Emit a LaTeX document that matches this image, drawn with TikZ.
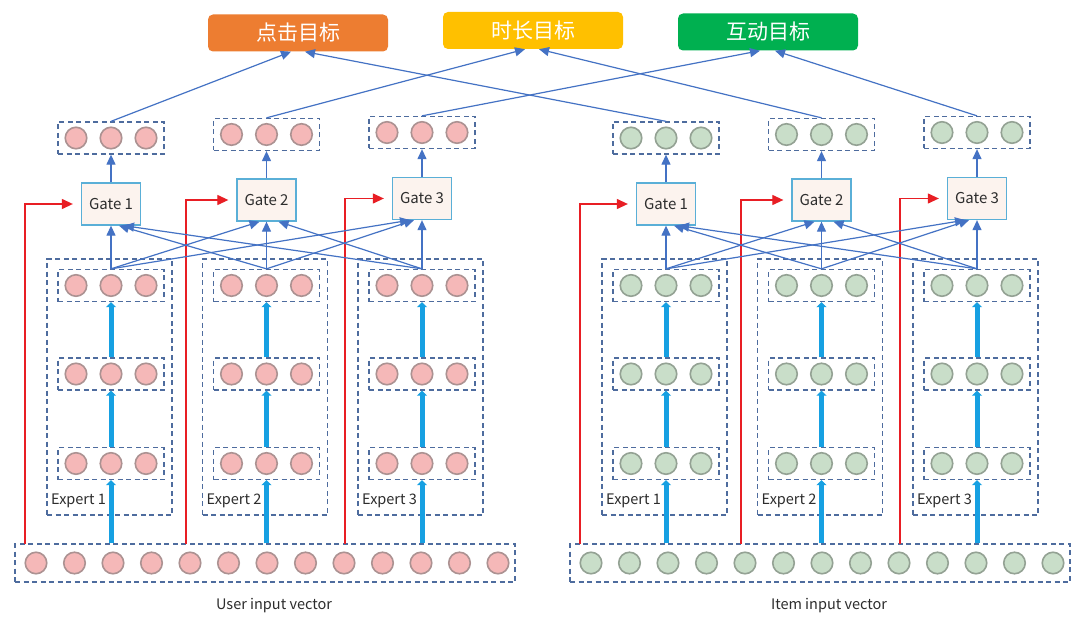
\documentclass[tikz,border=0pt]{standalone}
\usepackage{fontspec}
\setmainfont{Noto Sans CJK SC}
\usetikzlibrary{arrows.meta,calc}
\definecolor{dashc}{RGB}{78,108,158}
\definecolor{pinkf}{RGB}{245,184,184}
\definecolor{pinkb}{RGB}{172,146,146}
\definecolor{grnf}{RGB}{201,222,201}
\definecolor{grnb}{RGB}{148,162,148}
\definecolor{connc}{RGB}{68,114,196}
\definecolor{cyanc}{RGB}{22,160,226}
\definecolor{redc}{RGB}{232,30,36}
\definecolor{gatec}{RGB}{90,175,215}
\definecolor{gatef}{RGB}{252,243,238}
\definecolor{textc}{RGB}{45,45,45}
\definecolor{orangec}{RGB}{237,125,49}
\definecolor{yellowc}{RGB}{255,192,0}
\definecolor{greenc}{RGB}{0,176,80}
\begin{document}
\begin{tikzpicture}[x=1pt,y=-1pt,
  dbox/.style={draw=dashc, dash pattern=on 5pt off 3.5pt, line width=1.3pt, inner sep=0pt, minimum width=106pt, minimum height=32pt},
  neu/.style={circle, line width=1.6pt, minimum size=21.5pt, inner sep=0pt},
  gatebox/.style={draw=gatec, fill=gatef, line width=1.3pt, minimum width=59pt, minimum height=42pt, inner sep=0pt, text=textc, font=\fontsize{15}{17}\selectfont},
  target/.style={rounded corners=5pt, minimum width=180pt, minimum height=37pt, inner sep=0pt, text=white, font=\fontsize{21}{23}\selectfont},
  lbl/.style={text=textc, inner sep=0pt, font=\fontsize{14.5}{16}\selectfont},
  conn/.style={draw=connc, line width=1.2pt, -{Triangle[length=10pt,width=9pt]}},
  thk/.style={draw=cyanc, line width=5pt, -{Triangle[length=5pt,width=10pt]}},
  redarr/.style={draw=redc, line width=1.2pt, -{Triangle[length=11pt,width=10pt]}}
]
\fill[white] (0,0) rectangle (1080,623);
\useasboundingbox (0,0) rectangle (1080,623);

\node[target, fill=orangec] (tClick) at (298,33) {点击目标};
\node[target, fill=yellowc] (tTime) at (533,30.5) {时长目标};
\node[target, fill=greenc] (tInter) at (768,32) {互动目标};

\foreach \h/\dx/\nf/\nd/\lab in {U/0/pinkf/pinkb/User input vector, I/555/grnf/grnb/Item input vector}{
  \node[dbox, minimum width=500pt, minimum height=38pt] (in\h) at ({265+\dx},563) {};
  \foreach \k in {0,...,12}
    \node[neu, draw=\nd, fill=\nf] (in\k\h) at ({36+38.5*\k+\dx},563) {};
  \node[lbl] (lab\h) at ({274+\dx},606) {\lab};
  \foreach \i/\cx/\gy/\oy/\rx in {1/111/204/138/25, 2/266.5/200/134.5/186, 3/422/198.5/132.5/345}{
    \node[dbox, minimum width=125pt, minimum height=256pt] (ex\i\h) at ({\cx-1.5+\dx},387) {};
    \foreach \q/\qy in {a/285.5,b/374,c/463.5}{
      \node[dbox] (L\i\q\h) at ({\cx+\dx},\qy) {};
      \foreach \k/\kx in {1/-35,2/0,3/35}
        \node[neu, draw=\nd, fill=\nf] (L\i\q\k\h) at ({\cx+\kx+\dx},\qy) {};
    }
    \node[lbl, anchor=west] (exl\i\h) at ({\cx-60+\dx},501) {Expert \i};
    \node[gatebox] (g\i\h) at ({\cx+\dx},\gy) {Gate \i};
    \node[dbox] (o\i\h) at ({\cx+\dx},\oy) {};
    \foreach \k/\kx in {1/-35,2/0,3/35}
      \node[neu, draw=\nd, fill=\nf] (o\i\k\h) at ({\cx+\kx+\dx},\oy) {};
    \draw[thk] (in\h.north -| L\i c\h.south) -- (L\i c\h.south);
    \draw[thk] (L\i c\h.north) -- (L\i b\h.south);
    \draw[thk] (L\i b\h.north) -- (L\i a\h.south);
    \draw[conn] (g\i\h.north) -- (o\i\h.south);
    \coordinate (r\i\h) at ({\rx+\dx},544);
    \draw[redarr] (r\i\h) |- ([xshift=-8pt]g\i\h.west);
  }
  \foreach \i/\j/\off in {1/1/0,1/2/8,1/3/13,2/1/-7,2/2/0,2/3/12,3/1/-12,3/2/-8,3/3/0}
    \draw[conn] (L\j a\h.north) -- ([xshift=\off pt]g\i\h.south);
}

\draw[conn] (o1U.north) -- ([xshift=-7pt]tClick.south);
\draw[conn] (o1I.north) -- ([xshift=7pt]tClick.south);
\draw[conn] (o2U.north) -- ([xshift=-8pt]tTime.south);
\draw[conn] (o2I.north) -- ([xshift=6pt]tTime.south);
\draw[conn] (o3U.north) -- ([xshift=-8pt]tInter.south);
\draw[conn] (o3I.north) -- ([xshift=7pt]tInter.south);
\end{tikzpicture}
\end{document}
